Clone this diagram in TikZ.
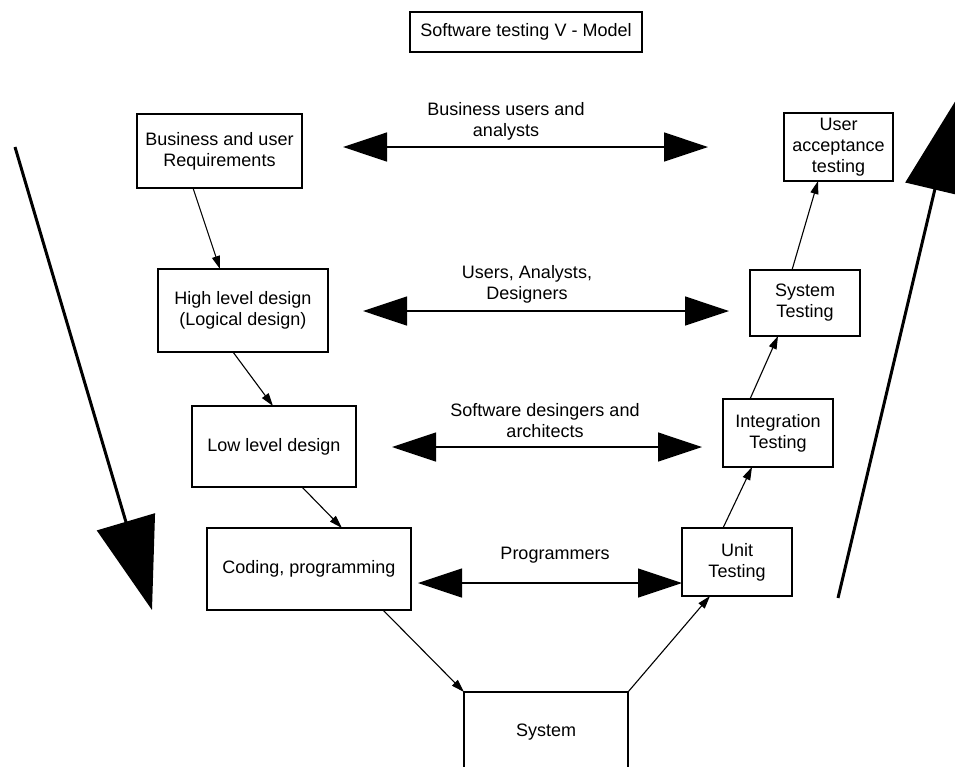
\documentclass[tikz,border=0pt]{standalone}
\usepackage{fontspec}
\setmainfont{Liberation Sans}
\usetikzlibrary{arrows.meta}
\begin{document}
\begin{tikzpicture}[x=1pt,y=-1pt,
  every node/.style={font=\fontsize{18}{21}\selectfont},
  box/.style={draw=black, line width=1.1pt, align=center, inner sep=0pt, outer sep=0pt},
  flow/.style={-{Triangle[length=13pt,width=8pt]}, line width=1.1pt},
  talk/.style={{Triangle[length=44pt,width=29pt]}-{Triangle[length=44pt,width=29pt]}, line width=1.3pt},
  phase/.style={-{Triangle[length=92pt,width=60pt]}, line width=3pt},
  lbl/.style={align=center, inner sep=0pt}]
\useasboundingbox (0,0) rectangle (955,766);
\clip (0,0) rectangle (955,766);
\fill[white] (0,0) rectangle (955,766);

% title
\node[box, minimum width=232pt, minimum height=40pt] (title) at (526,32) {Software testing V - Model};

% left branch: specification
\node[box, minimum width=165pt, minimum height=74pt] (req)  at (219.5,151) {Business and user\\Requirements};
\node[box, minimum width=170pt, minimum height=83pt] (hld)  at (243,310.5) {High level design\\(Logical design)};
\node[box, minimum width=164pt, minimum height=81pt] (lld)  at (274,446.5) {Low level design};
\node[box, minimum width=204pt, minimum height=82pt] (code) at (309,569) {Coding, programming};

% bottom
\node[box, minimum width=164pt, minimum height=80pt] (sys) at (546,732) {System};

% right branch: testing
\node[box, minimum width=110pt, minimum height=68pt] (unit)  at (737,562) {Unit\\Testing};
\node[box, minimum width=110pt, minimum height=68pt] (integ) at (778,433) {Integration\\Testing};
\node[box, minimum width=110pt, minimum height=66pt] (systest) at (805,303) {System\\Testing};
\node[box, minimum width=109pt, minimum height=68pt] (uat) at (838.5,147) {User\\acceptance\\testing};

% flow between stages
\draw[flow] ([xshift=56pt]req.south west) -- ([xshift=62pt]hld.north west);
\draw[flow] ([xshift=75pt]hld.south west) -- ([xshift=81pt]lld.north west);
\draw[flow] ([xshift=110pt]lld.south west) -- ([xshift=135pt]code.north west);
\draw[flow] ([xshift=176pt]code.south west) -- (sys.north west);
\draw[flow] (sys.north east) -- ([xshift=28pt]unit.south west);
\draw[flow] ([xshift=41pt]unit.north west) -- ([xshift=29pt]integ.south west);
\draw[flow] ([xshift=27pt]integ.north west) -- ([xshift=28pt]systest.south west);
\draw[flow] ([xshift=42pt]systest.north west) -- ([xshift=34pt]uat.south west);

% who takes part at each level
\coordinate (t1l) at (343,147);  \coordinate (t1r) at (708,147);
\coordinate (t2l) at (363,311);  \coordinate (t2r) at (729,311);
\coordinate (t3l) at (392,447);  \coordinate (t3r) at (702,447);
\coordinate (t4l) at (418,583);  \coordinate (t4r) at (682,583);
\draw[talk] (t1l) -- (t1r);
\draw[talk] (t2l) -- (t2r);
\draw[talk] (t3l) -- (t3r);
\draw[talk] (t4l) -- (t4r);
\node[lbl] (l1) at (506,121) {Business users and\\analysts};
\node[lbl] (l2) at (527,284) {Users, Analysts,\\Designers};
\node[lbl] (l3) at (545,421) {Software desingers and\\architects};
\node[lbl] (l4) at (555,555) {Programmers};

% direction of the two branches
\coordinate (downA) at (15,147);  \coordinate (downB) at (152,610);
\coordinate (upA) at (838,598);   \coordinate (upB) at (956,100);
\draw[phase] (downA) -- (downB);
\draw[phase] (upA) -- (upB);
\end{tikzpicture}
\end{document}
